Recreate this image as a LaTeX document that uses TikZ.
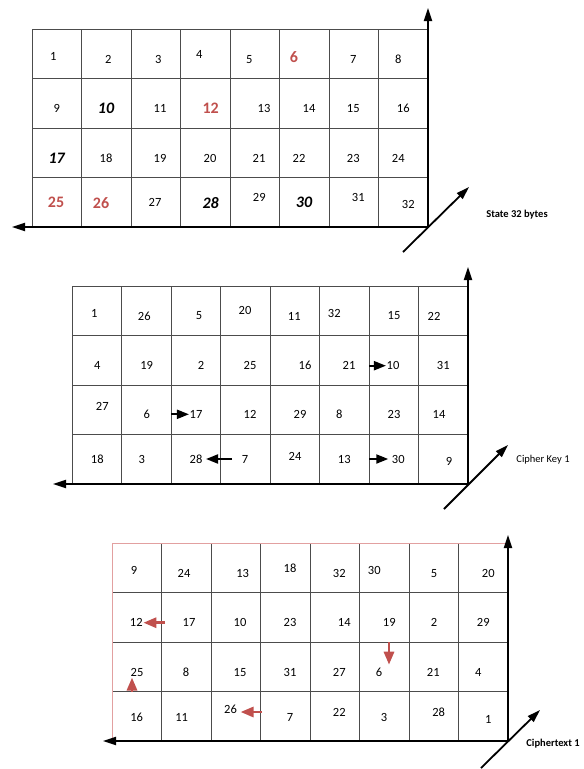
\documentclass[tikz,border=0pt]{standalone}
\usepackage{fontspec}
\setmainfont{Carlito}
\usetikzlibrary{arrows.meta}
\definecolor{accred}{RGB}{192, 80, 77}
\definecolor{pinkline}{RGB}{226, 160, 160}

\begin{document}
\begin{tikzpicture}[x=1pt, y=-1pt,
    cell/.style={draw=black!70, line width=0.8pt},
    axis/.style={-{Triangle[length=13pt, width=8pt]}, line width=1.8pt},
    num/.style={inner sep=0.5pt, font=\fontsize{12.5}{12.5}\selectfont},
    bignum/.style={inner sep=0.5pt, font=\fontsize{16}{16}\selectfont\bfseries\itshape},
    rednum/.style={inner sep=0.5pt, text=accred, font=\fontsize{16}{16}\selectfont\bfseries},
    lbl/.style={inner sep=0pt, font=\fontsize{10.5}{10.5}\selectfont},
    keyarr/.style={-{Triangle[length=12pt, width=9pt]}, line width=2pt},
    redarr/.style={-{Triangle[length=13pt, width=10pt]}, line width=2.8pt, accred}
  ]
    \useasboundingbox (0,0) rectangle (584,769);

    % cell lines of the three boxes
    \foreach \gx/\gy in {32/29, 72/286, 112/543}{
      \foreach \i in {1,...,7}
        \draw[cell] (\gx+\i*49.5,\gy) -- (\gx+\i*49.5,\gy+198);
      \foreach \j in {1,2,3}
        \draw[cell] (\gx,\gy+\j*49.5) -- (\gx+396,\gy+\j*49.5);
    }
    \draw[cell] (32,227) -- (32,29) -- (428,29);
    \draw[cell] (72,484) -- (72,286) -- (468,286);
    \draw[cell, draw=pinkline] (112,741) -- (112,543) -- (508,543);

    % state
    \foreach \n/\x/\y in {1/53.3/56.7, 2/108.3/59.3, 3/158.3/59.3, 4/199.3/54.3, 5/249.3/59.3,
        7/353.3/59.3, 8/398.3/59.3, 9/56.7/108.3, 11/160/108.3, 13/264/108.3, 14/309/108.3,
        15/353.3/108.3, 16/403.3/108.3, 18/106/158.3, 19/160/158.3, 20/210/158.3,
        21/259/158.3, 22/299/158.3, 23/353.3/158.3, 24/398.3/158.3, 27/155/202.7,
        29/259.3/197.7, 31/358.3/197.7, 32/408.3/204.3}
      \node[num] (s\n) at (\x,\y) {\n};
    \node[rednum] (s6) at (294,56.7) {6};
    \node[rednum] (s12) at (210.7,108.3) {12};
    \node[rednum] (s25) at (56,202.7) {25};
    \node[rednum] (s26) at (101,202.7) {26};
    \node[bignum] (s10) at (106,108.3) {10};
    \node[bignum] (s17) at (56.7,158.3) {17};
    \node[bignum] (s28) at (210.7,202.7) {28};
    \node[bignum] (s30) at (304,202.7) {30};

    % cipher key
    \foreach \n/\x/\y in {1/94.3/313.3, 26/144.3/316, 5/199/316, 20/245/310.7, 11/294.3/316,
        32/334.3/313.3, 15/394/316, 22/434/316, 4/97.3/365.7, 19/146.7/365.7, 2/201/365.7,
        25/250/365.7, 16/305/365.7, 21/349/365.7, 10/393/365.7, 31/443.3/365.7,
        27/102.3/406.7, 6/146.7/414.3, 17/196/414.3, 12/250/414.3, 29/300/414.3,
        8/339.3/414.3, 23/394/414.3, 14/439/414.3, 18/97.3/459, 3/141.7/459, 28/196/459,
        7/245/459, 24/295/456.7, 13/344.3/459, 30/398.3/459, 9/449/461}
      \node[num] (k\n) at (\x,\y) {\n};

    % ciphertext
    \foreach \n/\x/\y in {9/134/570.7, 24/184/573.3, 13/242.7/573.3, 18/290/568.3,
        32/339.3/573.3, 30/374.3/570.7, 5/434/573.3, 20/488.3/573.3, 12/136.3/622.7,
        17/189/622.7, 10/240/622.7, 23/290/622.7, 14/344.3/622.7, 19/389.3/622.7,
        2/434/622.7, 29/483.3/622.7, 25/137/672.7, 8/186/672.7, 15/240/672.7,
        31/290/672.7, 27/339.3/672.7, 6/379/672.7, 21/433.3/672.7, 4/478.3/672.7,
        16/136.7/717.3, 11/181.7/717.3, 26/230.5/709, 7/290/717.3, 22/339.3/712.3,
        3/384/717.3, 28/438.7/712.3, 1/488.3/719}
      \node[num] (c\n) at (\x,\y) {\n};

    % axes
    \coordinate (s-o) at (428,227);
    \coordinate (s-up) at (428,8);
    \coordinate (s-left) at (12,227);
    \coordinate (s-tail) at (403,252);
    \coordinate (s-tip) at (469,187);
    \draw[axis] (s-o) -- (s-up);
    \draw[axis] (s-o) -- (s-left);
    \draw[axis] (s-tail) -- (s-tip);

    \coordinate (k-o) at (468,484);
    \coordinate (k-up) at (468,267);
    \coordinate (k-left) at (53,484);
    \coordinate (k-tail) at (444,509);
    \coordinate (k-tip) at (508,445);
    \draw[axis] (k-o) -- (k-up);
    \draw[axis] (k-o) -- (k-left);
    \draw[axis] (k-tail) -- (k-tip);

    \coordinate (c-o) at (508,741);
    \coordinate (c-up) at (508,535);
    \coordinate (c-left) at (103,741);
    \coordinate (c-tail) at (481,768);
    \coordinate (c-tip) at (540,710);
    \draw[axis] (c-o) -- (c-up);
    \draw[axis] (c-o) -- (c-left);
    \draw[axis] (c-tail) -- (c-tip);

    \node[lbl, font=\fontsize{10.5}{10.5}\selectfont\bfseries] (slabel) at (517,215) {State 32 bytes};
    \node[lbl] (klabel) at (543,460) {Cipher Key 1};
    \node[lbl, font=\fontsize{10.5}{10.5}\selectfont\bfseries] (clabel) at (553,744) {Ciphertext 1};

    % moves in the cipher key
    \coordinate (k6b) at (171,414.3);
    \coordinate (k21b) at (369,365.7);
    \coordinate (k13b) at (369,459);
    \draw[keyarr] (k6b) -- (k17.west);
    \draw[keyarr, shorten <=9pt, shorten >=3pt] (k7.west) -- (k28.east);
    \draw[keyarr] (k21b) -- (k10.west);
    \draw[keyarr, shorten >=3pt] (k13b) -- (k30.west);

    % moves in the ciphertext
    \coordinate (c12b) at (165,622.7);
    \coordinate (c25b) at (132,692);
    \coordinate (c26b) at (262,712);
    \coordinate (c19b) at (389,642);
    \draw[redarr] (c12b) -- (c12.east);
    \draw[redarr] (c25b) -- (c25b |- c25.south);
    \draw[redarr, shorten >=3pt] (c26b) -- (c26b -| c26.east);
    \draw[redarr, shorten >=3pt] (c19b) -- (c19b |- c6.north);
  \end{tikzpicture}
\end{document}
